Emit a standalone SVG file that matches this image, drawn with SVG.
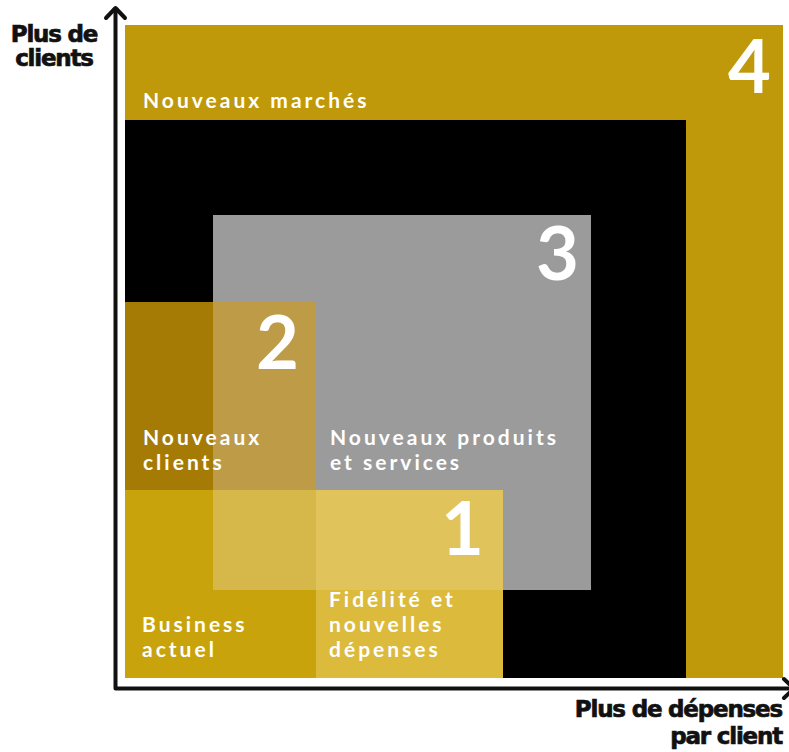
<svg xmlns="http://www.w3.org/2000/svg" width="789" height="752" viewBox="0 0 789 752">
<style>
.lbl{font-family:Lato,"Noto Sans",sans-serif;font-weight:700;font-size:21px;letter-spacing:3px;fill:#fff}
.num{font-family:Lato,"Noto Sans",sans-serif;font-weight:700;font-size:74px;fill:#fff;text-anchor:end}
.ax{font-family:"DejaVu Sans",sans-serif;font-weight:700;font-size:23px;letter-spacing:-1.2px;fill:#111;stroke:#111;stroke-width:0.7px}
.axis{fill:none;stroke:#111;stroke-width:4;stroke-linejoin:round;stroke-linecap:round}
</style>
<rect width="789" height="752" fill="#fff"/>
<g id="node-4">
<rect x="125" y="25" width="658" height="653" fill="#BF990A"/>
<text class="lbl" x="143" y="108">Nouveaux marchés</text>
<text class="num" x="771" y="93">4</text>
</g>
<g id="node-black">
<rect x="125" y="120" width="561" height="558" fill="#000"/>
</g>
<g id="node-3">
<rect x="213" y="215" width="378" height="375" fill="#9B9B9B"/>
<text class="lbl" x="330" y="445">Nouveaux produits</text>
<text class="lbl" x="330" y="470">et services</text>
<text class="num" x="579" y="280">3</text>
</g>
<g id="node-2">
<rect x="125" y="302" width="88" height="188" fill="#A67B05"/>
<rect x="213" y="302" width="103" height="188" fill="#BD9B47"/>
<text class="lbl" x="143" y="445">Nouveaux</text>
<text class="lbl" x="143" y="470">clients</text>
<text class="num" x="299" y="369">2</text>
</g>
<g id="node-business">
<rect x="125" y="490" width="191" height="188" fill="#C8A30C"/>
<rect x="213" y="490" width="103" height="100" fill="#D6B84A"/>
<text class="lbl" x="142" y="632">Business</text>
<text class="lbl" x="142" y="657">actuel</text>
</g>
<g id="node-1">
<rect x="316" y="490" width="187" height="100" fill="#E0C45B"/>
<rect x="316" y="590" width="187" height="88" fill="#DCBA3C"/>
<text class="lbl" x="329" y="607">Fidélité et</text>
<text class="lbl" x="329" y="632">nouvelles</text>
<text class="lbl" x="329" y="657">dépenses</text>
<text class="num" x="484" y="555">1</text>
</g>
<g id="connectors">
<polyline class="axis" points="115.5,9 115.5,688.5 792,688.5"/>
<polyline class="axis" points="106,18 115.5,8 125,18"/>
<polyline class="axis" points="784,679 794,688.5 784,698"/>
</g>
<g id="axis-labels">
<text class="ax" x="54" y="42" text-anchor="middle">Plus de</text>
<text class="ax" x="54" y="66" text-anchor="middle">clients</text>
<text class="ax" x="782" y="717" text-anchor="end">Plus de dépenses</text>
<text class="ax" x="782" y="744" text-anchor="end">par client</text>
</g>
</svg>
